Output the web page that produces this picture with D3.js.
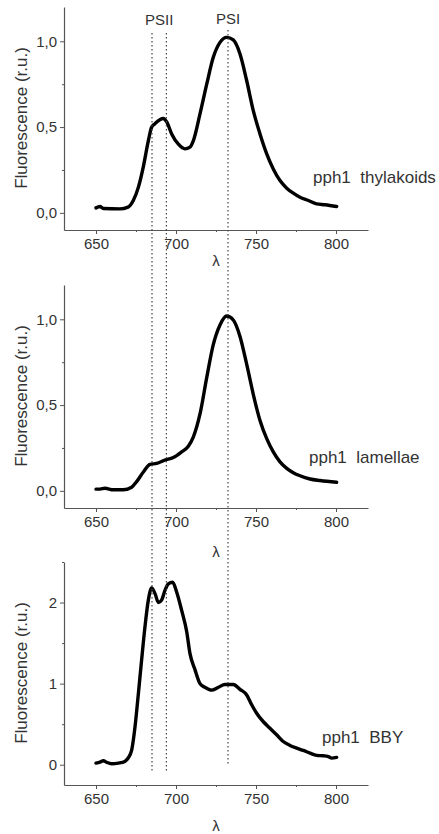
<!DOCTYPE html>
<html>
<head>
<meta charset="utf-8">
<script src="https://cdn.jsdelivr.net/npm/d3@7"></script>
<style>
  body { margin: 0; background: #fff; }
  text { font-family: "Liberation Sans", Arial, sans-serif; fill: #333; }
</style>
</head>
<body>
<div class="main"></div>
<script>
// wavelength (nm) / fluorescence (r.u.)
const thylakoidsWl = [650, 652.5, 654.6, 665, 670, 673.3, 676.5, 679.6, 682.7, 684.8, 686.9, 692, 694.2, 697.3, 701.5, 705.6, 708.75, 710.8, 715, 719.2, 723.3, 727.5, 731.7, 735.8, 740, 744.2, 748.3, 752.5, 756.7, 760.8, 765, 769.2, 773.3, 777.5, 782.7, 787.9, 793.1, 800.4];
const thylakoidsF = [0.029, 0.037, 0.025, 0.023, 0.033, 0.072, 0.15, 0.27, 0.42, 0.50, 0.52, 0.55, 0.53, 0.46, 0.40, 0.373, 0.383, 0.42, 0.577, 0.75, 0.907, 0.994, 1.023, 1.008, 0.926, 0.77, 0.596, 0.46, 0.344, 0.256, 0.188, 0.144, 0.115, 0.091, 0.072, 0.052, 0.047, 0.037];

const lamellaeWl = [650, 652.5, 655.6, 660.8, 667, 672.3, 675.4, 679.6, 683.75, 687.9, 693.1, 698.3, 703.5, 707.7, 710.8, 715, 719.2, 723.3, 727.5, 731.7, 735.8, 740, 744.2, 748.3, 752.5, 756.7, 760.8, 765, 769.2, 773.3, 777.5, 783.75, 790, 800.4];
const lamellaeF = [0.01, 0.01, 0.015, 0.006, 0.006, 0.021, 0.054, 0.11, 0.154, 0.16, 0.179, 0.194, 0.227, 0.26, 0.313, 0.448, 0.66, 0.852, 0.967, 1.019, 0.996, 0.9, 0.737, 0.563, 0.41, 0.304, 0.227, 0.169, 0.131, 0.106, 0.088, 0.069, 0.06, 0.05];

const bbyWl = [650, 652.5, 654.6, 656.7, 659.8, 664, 668, 670, 672.3, 674.4, 676.5, 678.5, 680.6, 682.7, 684.8, 686.9, 689, 691, 693.1, 695.2, 697.9, 700.4, 703.5, 706.7, 708.75, 711.9, 715, 718, 722.3, 726.5, 730.6, 735.8, 740, 744.2, 747.3, 750.4, 754.6, 758.75, 762.9, 767, 771.25, 775.4, 779.6, 783.75, 787.9, 792, 795.2, 797.3, 800.4];
const bbyF = [0.02, 0.033, 0.049, 0.029, 0.012, 0.02, 0.041, 0.08, 0.18, 0.47, 0.88, 1.29, 1.70, 2.03, 2.18, 2.11, 2.0, 2.03, 2.15, 2.23, 2.25, 2.13, 1.906, 1.64, 1.37, 1.17, 1.0, 0.955, 0.92, 0.955, 0.99, 0.99, 0.93, 0.86, 0.74, 0.635, 0.53, 0.45, 0.37, 0.287, 0.238, 0.205, 0.176, 0.143, 0.115, 0.11, 0.10, 0.082, 0.09];

const xTicks = [650, 700, 750, 800];
const xMinorTicks = [675, 725, 775];
const markerWl = [685, 694, 732.5];
const markerNames = ["PSII", "PSI"];

const panels = [
  { label: "pph1  thylakoids", wl: thylakoidsWl, f: thylakoidsF, yDomain: [-0.1, 1.2],
    yTicks: [0, 0.5, 1.0], yMinor: [0.25, 0.75], fmt: v => d3.format(".1f")(v).replace(".", ","),
    top: 7, labelX: 313, labelY: 183, lambdaDy: 36 },
  { label: "pph1  lamellae", wl: lamellaeWl, f: lamellaeF, yDomain: [-0.1, 1.2],
    yTicks: [0, 0.5, 1.0], yMinor: [0.25, 0.75], fmt: v => d3.format(".1f")(v).replace(".", ","),
    top: 285, labelX: 309, labelY: 463, lambdaDy: 49 },
  { label: "pph1  BBY", wl: bbyWl, f: bbyF, yDomain: [-0.25, 2.5],
    yTicks: [0, 1, 2], yMinor: [0.5, 1.5, 2.5], fmt: d3.format("d"),
    top: 562, labelX: 322, labelY: 743, lambdaDy: 46 }
];

let width = 439, height = 834;
let svg = d3.select("div.main").append("svg")
  .attr("width", width)
  .attr("height", height);

let left = 64, right = 368, plotH = 223;

let x = d3.scaleLinear().domain([630, 820]).range([left, right]);

panels.forEach(function(p) {
  let bottom = p.top + plotH;
  let y = d3.scaleLinear().domain(p.yDomain).range([bottom, p.top]);
  let g = svg.append("g");

  // axes: majors with labels, minors short
  g.append("g").attr("transform", "translate(0," + bottom + ")")
    .call(d3.axisBottom(x).tickValues(xTicks).tickSize(4).tickSizeOuter(0).tickPadding(4));
  g.append("g").attr("transform", "translate(0," + bottom + ")")
    .call(d3.axisBottom(x).tickValues(xMinorTicks).tickSize(2).tickSizeOuter(0).tickFormat(""))
    .select(".domain").remove();
  g.append("g").attr("transform", "translate(" + left + ",0)")
    .call(d3.axisLeft(y).tickValues(p.yTicks).tickSize(4).tickSizeOuter(0).tickPadding(3).tickFormat(p.fmt));
  g.append("g").attr("transform", "translate(" + left + ",0)")
    .call(d3.axisLeft(y).tickValues(p.yMinor).tickSize(2).tickSizeOuter(0).tickFormat(""))
    .select(".domain").remove();

  g.selectAll(".domain").attr("stroke", "#555").attr("stroke-width", 1.2);
  g.selectAll(".tick line").attr("stroke", "#555");
  g.selectAll(".tick text").style("font-size", "15px").attr("fill", "#333")
    .style("font-family", '"Liberation Sans", Arial, sans-serif');

  // y label
  g.append("text")
    .attr("transform", "translate(27," + (p.top + 111) + ") rotate(-90)")
    .attr("text-anchor", "middle")
    .style("font-size", "17px")
    .text("Fluorescence (r.u.)");

  // x label
  g.append("text")
    .attr("x", 216)
    .attr("y", bottom + p.lambdaDy)
    .attr("text-anchor", "middle")
    .style("font-size", "15px")
    .text("λ");

  // spectrum
  let pts = p.wl.map((w, i) => [w, p.f[i]]);
  g.append("path")
    .datum(pts)
    .attr("fill", "none")
    .attr("stroke", "#000")
    .attr("stroke-width", 3.4)
    .attr("stroke-linejoin", "round")
    .attr("stroke-linecap", "round")
    .attr("d", d3.line().x(d => x(d[0])).y(d => y(d[1])).curve(d3.curveMonotoneX));

  // sample label (keep the double space)
  g.append("text")
    .attr("x", p.labelX)
    .attr("y", p.labelY)
    .style("font-size", "17px")
    .style("white-space", "pre")
    .text(p.label);
});

// dotted markers running through all three panels
let markerEnds = [[33, 772], [33, 772], [30, 765]];
svg.selectAll("line.marker")
  .data(markerWl)
  .enter().append("line")
  .attr("class", "marker")
  .attr("x1", d => x(d))
  .attr("x2", d => x(d))
  .attr("y1", (d, i) => markerEnds[i][0])
  .attr("y2", (d, i) => markerEnds[i][1])
  .attr("stroke", "#444")
  .attr("stroke-width", 1.2)
  .attr("stroke-dasharray", "1.5,2.5");

svg.append("text")
  .attr("x", x((markerWl[0] + markerWl[1]) / 2))
  .attr("y", 25)
  .attr("text-anchor", "middle")
  .style("font-size", "15px")
  .text(markerNames[0]);
svg.append("text")
  .attr("x", x(markerWl[2]))
  .attr("y", 24)
  .attr("text-anchor", "middle")
  .style("font-size", "15px")
  .text(markerNames[1]);
</script>
</body>
</html>
